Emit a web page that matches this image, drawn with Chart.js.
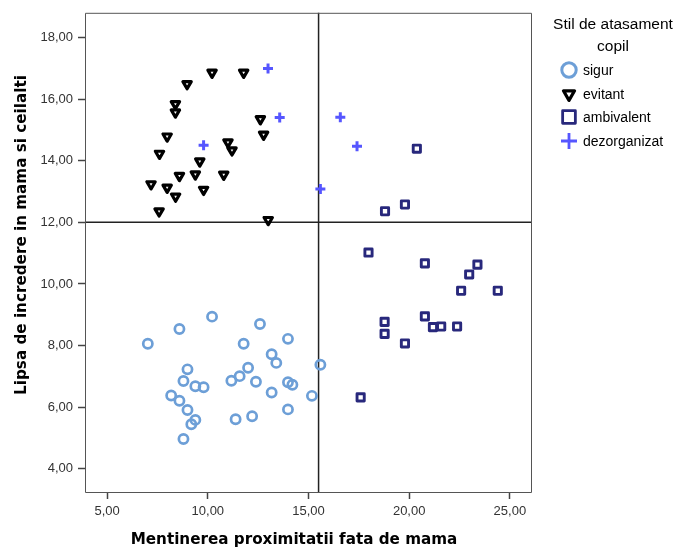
<!DOCTYPE html>
<html>
<head>
<meta charset="utf-8">
<script src="https://cdn.jsdelivr.net/npm/chart.js@4.4.0/dist/chart.umd.min.js"></script>
<style>
  html, body { margin: 0; padding: 0; background: #fff; }
  #wrap { width: 681px; height: 548px; position: relative; }
</style>
</head>
<body>
<div id="wrap"><canvas id="scatter"></canvas></div>
<script>
// Stil de atasament copil - four groups
const groups = ["sigur", "evitant", "ambivalent", "dezorganizat"];

const sigurX = [10.21, 8.59, 7.02, 12.59, 13.98, 11.78, 13.17, 13.40, 8.99, 12.00, 11.58, 11.17, 12.39, 8.79, 9.38,
                9.79, 13.98, 14.20, 8.18, 8.59, 13.17, 15.17, 15.59, 8.99, 13.98, 9.38, 9.18, 11.38, 12.20, 8.79];
const sigurY = [8.94, 8.54, 8.06, 8.70, 8.22, 8.06, 7.72, 7.44, 7.23, 7.28, 7.01, 6.86, 6.83, 6.85, 6.68,
                6.65, 6.81, 6.73, 6.38, 6.21, 6.48, 6.37, 7.38, 5.91, 5.93, 5.59, 5.45, 5.61, 5.71, 4.97];

const evitantX = [10.21, 11.78, 8.97, 8.39, 8.39, 12.61, 7.98, 12.77, 11.00, 11.20, 7.60, 9.60, 8.59, 9.38,
                  10.79, 7.18, 7.98, 9.79, 8.40, 7.58, 13.00];
const evitantY = [16.86, 16.86, 16.49, 15.84, 15.57, 15.35, 14.79, 14.85, 14.60, 14.34, 14.23, 13.98, 13.51, 13.56,
                  13.55, 13.24, 13.13, 13.06, 12.84, 12.36, 12.08];

const ambivalentX = [20.38, 19.79, 18.80, 17.98, 20.78, 23.39, 22.98, 22.58, 24.40, 18.78, 18.78, 20.78, 21.18,
                     21.59, 22.38, 19.79, 17.59];
const ambivalentY = [14.39, 12.58, 12.36, 11.02, 10.67, 10.63, 10.31, 9.78, 9.78, 8.77, 8.38, 8.95, 8.60,
                     8.62, 8.62, 8.07, 6.32];

const dezorganizatX = [12.99, 13.57, 9.79, 15.59, 16.58, 17.41];
const dezorganizatY = [16.99, 15.40, 14.50, 13.08, 15.41, 14.47];

const xTicks = [5, 10, 15, 20, 25];
const yTicks = [4, 6, 8, 10, 12, 14, 16, 18];

// reference lines (x = 15.5, y = 12)
const refX = 15.5;
const refY = 12;

const xTitle = "Mentinerea proximitatii fata de mama";
const yTitle = "Lipsa de incredere in mama si ceilalti";

function pts(xs, ys) {
  return xs.map((x, i) => ({ x: x, y: ys[i] }));
}

const styles = [
  { color: "#6d9fd7", pointStyle: "circle", radius: 4.6, width: 2.7, rotation: 0, legendRadius: 7.2, legendWidth: 3 },
  { color: "#000000", pointStyle: "triangle", radius: 4.8, width: 3.2, rotation: 180, legendRadius: 6.4, legendWidth: 3.2 },
  { color: "#28287c", pointStyle: "rect", radius: 5.1, width: 2.9, rotation: 0, legendRadius: 9, legendWidth: 2.8 },
  { color: "#5656ff", pointStyle: "cross", radius: 5, width: 3, rotation: 0, legendRadius: 8, legendWidth: 2.8 }
];

const series = [pts(sigurX, sigurY), pts(evitantX, evitantY), pts(ambivalentX, ambivalentY), pts(dezorganizatX, dezorganizatY)];

const comma = v => v.toFixed(2).replace(".", ",");

// frame around the plot + the two reference lines
const framePlugin = {
  id: "frame",
  beforeDatasetsDraw(chart) {
    const { ctx, chartArea: a, scales } = chart;
    ctx.save();
    ctx.strokeStyle = "#222";
    ctx.lineWidth = 1.5;
    const px = scales.x.getPixelForValue(refX);
    const py = scales.y.getPixelForValue(refY);
    ctx.beginPath();
    ctx.moveTo(px, a.top); ctx.lineTo(px, a.bottom);
    ctx.moveTo(a.left, py); ctx.lineTo(a.right, py);
    ctx.stroke();
    ctx.restore();
    // softer corners on the markers
    ctx.lineJoin = "round";
  },
  afterDraw(chart) {
    const { ctx, chartArea: a } = chart;
    ctx.save();
    ctx.strokeStyle = "#555";
    ctx.lineWidth = 1;
    ctx.strokeRect(a.left + 0.5, a.top + 0.5, a.right - a.left - 1, a.bottom - a.top);

    // axis titles, set a bit off-centre like the SPSS output
    ctx.fillStyle = "#000";
    ctx.font = "bold 15.2px 'DejaVu Sans', sans-serif";
    ctx.textAlign = "center";
    ctx.textBaseline = "middle";
    ctx.fillText(xTitle, 294, 540);
    ctx.translate(22, 235);
    ctx.rotate(-Math.PI / 2);
    ctx.fillText(yTitle, 0, 0);
    ctx.restore();
  }
};

// legend at the right with a two-line title
const legendPlugin = {
  id: "sideLegend",
  afterDraw(chart) {
    const ctx = chart.ctx;
    ctx.save();
    ctx.fillStyle = "#000";
    ctx.textBaseline = "middle";
    ctx.textAlign = "center";
    ctx.font = "15.5px 'Liberation Sans', Arial, sans-serif";
    ctx.fillText("Stil de atasament", 613, 25);
    ctx.fillText("copil", 613, 47);
    ctx.textAlign = "left";
    ctx.font = "14px 'Liberation Sans', Arial, sans-serif";
    ctx.lineJoin = "round";
    const rows = [70, 94, 117, 141];
    groups.forEach((g, i) => {
      const s = styles[i];
      ctx.strokeStyle = s.color;
      ctx.fillStyle = "rgba(0,0,0,0)";
      ctx.lineWidth = s.legendWidth;
      Chart.helpers.drawPoint(ctx, {
        pointStyle: s.pointStyle, radius: s.legendRadius, rotation: s.rotation, borderWidth: s.legendWidth
      }, 569, rows[i]);
      ctx.fillStyle = "#000";
      ctx.fillText(g, 583, rows[i] + 1);
    });
    ctx.restore();
  }
};

new Chart(document.getElementById("scatter"), {
  type: "scatter",
  data: {
    datasets: groups.map((g, i) => ({
      label: g,
      data: series[i],
      pointStyle: styles[i].pointStyle,
      pointRadius: styles[i].radius,
      pointHoverRadius: styles[i].radius,
      pointRotation: styles[i].rotation,
      borderColor: styles[i].color,
      backgroundColor: "rgba(255,255,255,0)",
      borderWidth: styles[i].width
    }))
  },
  options: {
    responsive: true,
    maintainAspectRatio: false,
    animation: false,
    layout: { padding: { top: 8, right: 149, left: 0, bottom: 0 } },
    plugins: {
      legend: { display: false },
      tooltip: { enabled: false }
    },
    scales: {
      x: {
        type: "linear",
        min: 3.9,
        max: 26.1,
        afterBuildTicks: s => { s.ticks = xTicks.map(v => ({ value: v })); },
        afterFit: s => { s.height = 56; },
        grid: { drawOnChartArea: false, tickLength: 7, color: "#444", tickWidth: 1.5 },
        border: { display: false },
        ticks: {
          color: "#333",
          padding: 5,
          maxRotation: 0,
          font: { family: "'Liberation Sans', Arial, sans-serif", size: 13 },
          callback: v => comma(v)
        }
      },
      y: {
        type: "linear",
        min: 3.25,
        max: 18.8,
        afterBuildTicks: s => { s.ticks = yTicks.map(v => ({ value: v })); },
        afterFit: s => { s.width = 85; },
        grid: { drawOnChartArea: false, tickLength: 7, color: "#444", tickWidth: 1.5 },
        border: { display: false },
        ticks: {
          color: "#333",
          padding: 5,
          font: { family: "'Liberation Sans', Arial, sans-serif", size: 13 },
          callback: v => comma(v)
        }
      }
    }
  },
  plugins: [framePlugin, legendPlugin]
});
</script>
</body>
</html>
